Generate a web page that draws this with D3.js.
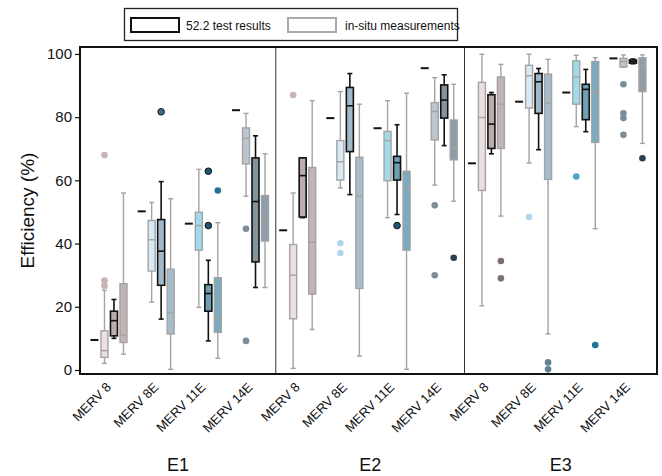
<!DOCTYPE html>
<html>
<head>
<meta charset="utf-8">
<script src="https://cdn.jsdelivr.net/npm/d3@7"></script>
<style>
  body { margin: 0; background: #fff; }
  svg { font-family: Arial, "Liberation Sans", sans-serif; }
</style>
</head>
<body>
<div id="chart"></div>
<script>
// sites and filter classes
const panels = ["E1", "E2", "E3"];
const filters = ["MERV 8", "MERV 8E", "MERV 11E", "MERV 14E"];

// short dash per filter: one value per panel
const ratedE1 = [9.5, 50.2, 46.3, 82.2];
const ratedE2 = [44.2, 79.7, 76.5, 95.5];
const ratedE3 = [65.4, 84.9, 87.8, 98.6];

// box stats [min, q1, median, q3, max] per filter
// first in-situ box
const insitu1E1 = [[2.1, 4.0, 6.1, 12.4, 25.2], [21.5, 31.3, 41.2, 47.3, 53.0], [19.8, 37.9, 45.7, 49.9, 63.5], [55.0, 65.2, 73.3, 76.6, 81.2]];
const insitu1E2 = [[0.5, 16.2, 30.0, 39.7, 56.0], [57.6, 60.1, 65.9, 72.6, 88.1], [48.2, 59.9, 72.6, 75.5, 85.2], [58.5, 72.8, 81.8, 84.6, 92.5]];
const insitu1E3 = [[20.3, 56.8, 79.9, 91.0, 99.9], [65.5, 82.9, 93.1, 96.4, 99.9], [77.0, 84.1, 92.7, 97.8, 99.6], [95.8, 95.9, 97.6, 98.6, 99.7]];
// 52.2 test box
const testE1 = [[10.0, 10.8, 15.6, 18.6, 22.3], [16.1, 26.8, 37.6, 47.6, 59.6], [9.2, 18.6, 24.2, 27.0, 34.7], [26.1, 34.2, 53.3, 67.1, 74.1]];
const testE2 = [[48.2, 48.4, 61.5, 67.1, 67.1], [55.5, 69.1, 83.6, 89.4, 93.8], [49.2, 60.1, 65.6, 67.6, 77.6], [71.0, 79.7, 85.4, 90.2, 93.4]];
const testE3 = [[68.4, 70.1, 77.8, 87.1, 87.8], [69.7, 81.2, 91.2, 93.8, 95.4], [75.4, 79.2, 88.8, 90.4, 95.1], [96.9, 97.1, 97.6, 98.1, 98.4]];
// second in-situ box
const insitu2E1 = [[5.0, 8.7, 11.0, 27.3, 56.0], [0.2, 11.4, 18.1, 31.9, 54.2], [3.7, 11.9, 16.3, 29.2, 46.6], [26.1, 40.8, 46.8, 55.2, 68.4]];
const insitu2E2 = [[12.8, 24.0, 40.5, 64.1, 85.2], [4.4, 25.8, 55.0, 67.3, 84.1], [0.2, 37.9, 57.8, 62.9, 87.6], [53.4, 66.5, 70.3, 79.1, 90.4]];
const insitu2E3 = [[48.7, 70.1, 84.1, 92.7, 96.7], [11.4, 60.3, 84.4, 93.6, 98.3], [44.7, 72.0, 87.8, 97.6, 98.8], [71.7, 88.1, 96.5, 98.8, 99.7]];

// outliers: [panel, filter, box (0 in-situ 1, 1 test, 2 in-situ 2), value]
const outliers = [
  [0, 0, 0, 26.6], [0, 0, 0, 28.3], [0, 0, 0, 68.0], [0, 1, 1, 81.7],
  [0, 2, 1, 62.9], [0, 2, 1, 45.7], [0, 2, 2, 56.8], [0, 3, 0, 44.7], [0, 3, 0, 9.2],
  [1, 0, 0, 87.0], [1, 1, 0, 40.1], [1, 1, 0, 37.0], [1, 2, 1, 45.7],
  [1, 3, 0, 52.1], [1, 3, 0, 30.0], [1, 3, 2, 35.5],
  [2, 0, 2, 34.5], [2, 0, 2, 29.0], [2, 1, 0, 48.4], [2, 1, 2, 2.4], [2, 1, 2, 0.2],
  [2, 2, 0, 61.2], [2, 2, 2, 7.9], [2, 3, 0, 90.4], [2, 3, 0, 81.2], [2, 3, 0, 79.7],
  [2, 3, 0, 74.4], [2, 3, 2, 67.0]
];

const yTicks = [0, 20, 40, 60, 80, 100];

// colours per filter: [in-situ 1, test, in-situ 2]
const fills = [
  ["#ecdfe0", "#bcacac", "#c2b4b4"],
  ["#d9eaf7", "#a2b9c9", "#a8bdcc"],
  ["#a3daea", "#6e9fb3", "#7aabbf"],
  ["#bac6d0", "#85939d", "#8f9da8"]
];
const dotFills = [
  ["#c9b3b3", "#5f5050", "#7d6f6f"],
  ["#b3d5ec", "#3d6e88", "#5f8296"],
  ["#48a7cc", "#1a5878", "#24729a"],
  ["#7c8d9a", "#3a4854", "#2b3f54"]
];

const rated = [ratedE1, ratedE2, ratedE3];
const boxSets = [
  [insitu1E1, testE1, insitu2E1],
  [insitu1E2, testE2, insitu2E2],
  [insitu1E3, testE3, insitu2E3]
];

const width = 662, height = 476;
const mLeft = 80, mRight = 657, mTop = 47, mBottom = 374;

const svg = d3.select("#chart").append("svg")
  .attr("width", width)
  .attr("height", height);

// group index 0..11 -> centre of the 52.2 box
const x = d3.scaleLinear().domain([-0.72, 11.51]).range([mLeft, mRight]);
const y = d3.scaleLinear().domain([-1.27, 102.2]).range([mBottom, mTop]);

const offsets = [-9.5, 0, 9.5];
const boxW = 7, capW = 5;

// boxes
let boxes = [];
panels.forEach((p, pi) => {
  filters.forEach((f, fi) => {
    boxSets[pi].forEach((set, si) => {
      boxes.push({ g: pi * 4 + fi, fi: fi, si: si, s: set[fi] });
    });
  });
});

const bg = svg.append("g").selectAll("g")
  .data(boxes)
  .enter()
  .append("g")
  .attr("transform", d => `translate(${x(d.g) + offsets[d.si]},0)`)
  .attr("stroke", d => d.si == 1 ? "#111" : "#a3a3a3")
  .attr("stroke-width", d => d.si == 1 ? 1.6 : 1.4);

bg.append("line")
  .attr("x1", 0).attr("x2", 0)
  .attr("y1", d => y(d.s[0])).attr("y2", d => y(d.s[4]));
bg.append("line")
  .attr("x1", -capW / 2).attr("x2", capW / 2)
  .attr("y1", d => y(d.s[0])).attr("y2", d => y(d.s[0]));
bg.append("line")
  .attr("x1", -capW / 2).attr("x2", capW / 2)
  .attr("y1", d => y(d.s[4])).attr("y2", d => y(d.s[4]));
bg.append("rect")
  .attr("x", -boxW / 2)
  .attr("width", boxW)
  .attr("y", d => y(d.s[3]))
  .attr("height", d => Math.max(1, y(d.s[1]) - y(d.s[3])))
  .attr("fill", d => fills[d.fi][d.si]);
bg.append("line")
  .attr("x1", -boxW / 2).attr("x2", boxW / 2)
  .attr("y1", d => y(d.s[2])).attr("y2", d => y(d.s[2]));

// outlier dots
svg.append("g").selectAll("circle")
  .data(outliers)
  .enter()
  .append("circle")
  .attr("cx", d => x(d[0] * 4 + d[1]) + offsets[d[2]])
  .attr("cy", d => y(d[3]))
  .attr("r", 3.3)
  .attr("fill", d => dotFills[d[1]][d[2]])
  .attr("stroke", d => d[2] == 1 ? "#111" : "none")
  .attr("stroke-width", 1);

// short dashes
let dashes = [];
rated.forEach((r, pi) => r.forEach((v, fi) => dashes.push({ g: pi * 4 + fi, v: v })));
svg.append("g").selectAll("line")
  .data(dashes)
  .enter()
  .append("line")
  .attr("x1", d => x(d.g) - 23.5)
  .attr("x2", d => x(d.g) - 15.5)
  .attr("y1", d => y(d.v))
  .attr("y2", d => y(d.v))
  .attr("stroke", "#111")
  .attr("stroke-width", 2);

// panel dividers
svg.append("g").selectAll("line")
  .data([1, 2])
  .enter()
  .append("line")
  .attr("x1", d => x(d * 4 - 0.57))
  .attr("x2", d => x(d * 4 - 0.57))
  .attr("y1", mTop)
  .attr("y2", mBottom)
  .attr("stroke", "#333")
  .attr("stroke-width", 1);

// frame
svg.append("rect")
  .attr("x", mLeft).attr("y", mTop)
  .attr("width", mRight - mLeft).attr("height", mBottom - mTop)
  .attr("fill", "none")
  .attr("stroke", "#111")
  .attr("stroke-width", 2);

// y axis
const yAxis = svg.append("g")
  .attr("transform", `translate(${mLeft},0)`)
  .call(d3.axisLeft(y).tickValues(yTicks).tickSize(5).tickPadding(3));
yAxis.select(".domain").remove();
yAxis.selectAll("line").attr("stroke", "#111").attr("stroke-width", 1.2);
yAxis.selectAll("text").attr("font-size", 15).attr("fill", "#111")
  .attr("font-family", "Arial, 'Liberation Sans', sans-serif");

svg.append("text")
  .attr("transform", `translate(34,${(mTop + mBottom) / 2}) rotate(-90)`)
  .attr("text-anchor", "middle")
  .attr("font-size", 19)
  .attr("fill", "#111")
  .text("Efficiency (%)");

// x labels
let labels = [];
panels.forEach((p, pi) => filters.forEach((f, fi) => labels.push({ g: pi * 4 + fi, t: f })));
svg.append("g").selectAll("text")
  .data(labels)
  .enter()
  .append("text")
  .attr("transform", d => `translate(${x(d.g) - 2},388) rotate(-45)`)
  .attr("text-anchor", "end")
  .attr("font-size", 13)
  .attr("fill", "#111")
  .text(d => d.t);

// panel names
const edges = [mLeft, x(3.43), x(7.43), mRight];
svg.append("g").selectAll("text")
  .data(panels)
  .enter()
  .append("text")
  .attr("x", (d, i) => (edges[i] + edges[i + 1]) / 2)
  .attr("y", 471)
  .attr("text-anchor", "middle")
  .attr("font-size", 18)
  .attr("fill", "#111")
  .text(d => d);

// legend
const lg = svg.append("g");
lg.append("rect")
  .attr("x", 124.5).attr("y", 8.5)
  .attr("width", 333).attr("height", 32)
  .attr("fill", "#fff")
  .attr("stroke", "#222")
  .attr("stroke-width", 1.3);
lg.append("rect")
  .attr("x", 131).attr("y", 18)
  .attr("width", 48).attr("height", 14)
  .attr("fill", "#fff")
  .attr("stroke", "#111")
  .attr("stroke-width", 2);
lg.append("text")
  .attr("x", 186).attr("y", 29.5)
  .attr("font-size", 12)
  .attr("fill", "#111")
  .text("52.2 test results");
lg.append("rect")
  .attr("x", 288).attr("y", 18)
  .attr("width", 48).attr("height", 14)
  .attr("fill", "#fff")
  .attr("stroke", "#aaa")
  .attr("stroke-width", 2);
lg.append("text")
  .attr("x", 345).attr("y", 29.5)
  .attr("font-size", 12)
  .attr("fill", "#111")
  .text("in-situ measurements");
</script>
</body>
</html>
